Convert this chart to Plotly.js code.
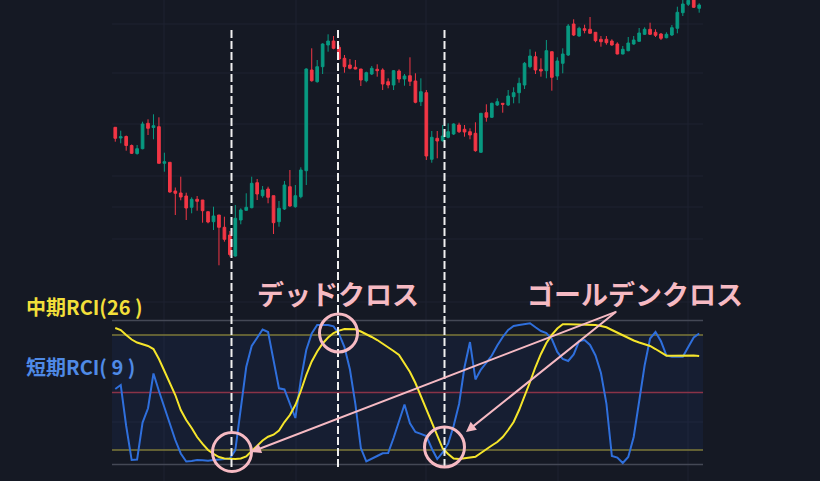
<!DOCTYPE html>
<html>
<head>
<meta charset="utf-8">
<script src="https://cdn.plot.ly/plotly-3.0.1.min.js"></script>
<style>
html,body{margin:0;padding:0;background:#151924;}
#chart{width:820px;height:481px;}
</style>
</head>
<body>
<div id="chart"></div>
<script>
// ---- price data (OHLC, arbitrary price units) ----
const open = [172.7,162,163.5,154.5,146.5,151.3,176.7,172.5,173.3,136.7,
  137.7,109,107,104,92.7,100.7,100,88.3,78.3,85,
  72.7,65,44,80,89.7,92.3,117.3,104.3,111,104.3,
  78.3,91,113.3,93.3,103.3,129.3,230,218.3,233.3,255,
  259,252.7,241.7,235,232.7,231,219.3,226,230.7,230,
  218.3,215,229,221,224.3,219,198.3,207.3,140.7,161.7,
  159.3,162.7,166,175,170.7,168.3,166.7,147.7,187.3,182.7,
  195,196.7,195,203.3,207.3,215,233.3,243.3,230.7,229.3,
  248.3,224,236.7,245,276,264,271.3,270.7,267.7,260.7,
  260.7,259,256,246,249.3,256,258.7,265.7,270.7,267.7,
  266,262.3,265,271.7,287.3,295.7,301,291.7];
const high = [173,169.3,164.5,155.5,155,178.3,180.7,185.7,182.7,147.3,
  138,112.5,123.3,107.3,102.7,104,100,88.5,93.3,85,
  83.3,69,95,91.7,106.7,123.3,121,114,113.3,104.3,
  99,119,130,115,132.7,231.7,251.7,240,256.7,265.7,
  264,255,245,241,240,231,228.3,234,235.7,231.7,
  221.7,230,230.7,226,242.7,226.7,221.7,210,169,169,
  175,176.7,176.7,177.3,175,171.7,177.7,187,195.7,197.3,
  201.7,197,210,212.7,222.3,238,250.7,248.3,241.7,260,
  248.3,242.7,251.7,276,280.7,273.3,275.3,283,267.7,264,
  264,260.7,257.7,254,263,264,272,272.7,277.3,270.7,
  267,267.7,275,293.3,300,302,303,296.7];
const low = [158.3,156.7,149.3,146,145.3,150.7,165,160.7,136.7,128.3,
  107.3,85,99.7,80,86.7,89.3,77.3,76.7,70,34.7,
  58.3,43.5,43.3,75.7,89.3,91.7,100,102.3,96.7,66,
  73.3,90,93.3,92.3,101.7,115,218.3,217.3,226,248.3,
  250.7,240,227.3,230.7,230.7,214,217.7,225,223.3,210,
  211.7,210,217.3,214.3,214,196.7,194,140,137.3,141.7,
  158.3,161.7,165,167,163.3,160.7,148.3,147.3,178.3,182,
  194,187.3,194,196.7,196.7,211,231.7,226,223.3,221.7,
  209.3,220,226.7,244,264,263.3,266.7,266.7,257.7,253.3,
  255.3,254.3,245.7,245.7,248.7,255.3,258.3,265,265,263,
  260,261.7,264,266.7,284,294,292,287.3];
const close = [161.7,163.3,154.5,146.7,151.3,176,171.7,174.3,136.7,138.3,
  108,106.7,103,92,100.7,98.7,89.3,78,84,72.7,
  60.7,45.5,81.7,90,92.7,116.7,106,110,102.7,77.3,
  91.7,115,94,104.3,130,231,219.3,233.3,256,259,
  251.7,241,233.3,231.7,231,220,227.3,231.7,229.3,216,
  215,229.3,221,224,218.7,197.7,208.3,144,162.7,159,
  164,168.3,176,168.3,168,165,149.3,186.7,182.7,196.7,
  198.3,195.7,204,207.3,216.7,236.7,244,230,229,249.3,
  222.7,239,246,274,265,271.7,269.7,266.7,259.3,258.3,
  257.3,255,246,250.7,257,260,267,270.7,265.7,264.7,
  261.7,265.7,272.3,287.7,296,299.7,292.7,295];

// ---- RCI values ----
const rciShort9 = [4.9,10.4,-46.5,-93.8,-93.1,-41.7,-21.9,26.4,2.1,-20.8,
  -43.8,-66,-84.7,-95.8,-95.1,-93.8,-94.2,-94.7,-93.8,-93.1,
  -92.4,-91.7,-79.9,-22.9,35.4,64.6,75.3,87.5,84,43.1,
  5.8,4.2,-15.3,-35.4,17.4,59,81.9,93.8,93.8,93.8,
  91.9,81.3,63.2,31.9,-16,-77.1,-95.8,-92.4,-88.2,-84.4,
  -84,-63.2,-40.3,-16.7,-42.8,-54.9,-57.4,-60.4,-77.8,-92.4,
  -83.3,-70.8,-46.5,-16,35.4,70.1,18.1,31.9,41.3,51.4,
  65.3,77.1,86.8,92.4,93.8,94.7,96.1,90.6,85.4,82.6,
  74.3,56.3,46.5,43.8,52.8,71.5,72.9,66,51.4,27.1,
  -15.3,-88.2,-90.3,-97.9,-89.6,-61.8,-11.1,37.5,75,84,
  71.1,51.4,49.7,49.7,49.7,63.2,76.4,81.9];
const rciMid26 = [89.6,86.8,79.9,73.6,69.4,67.4,64.6,60.4,46.5,29.9,
  13.2,-3.5,-24.3,-38.2,-49.3,-61.8,-71.5,-79.9,-85.4,-89.6,
  -91.7,-92.4,-92.4,-91.7,-88.9,-81.3,-73.6,-66.7,-61.4,-58.6,
  -52.8,-41,-31.3,-17.4,2.1,24.3,43.1,56.9,68.1,76.4,
  82.6,86,88.2,88.2,87.8,84.7,81.3,77.1,72.9,68.1,
  62.5,57.6,52.1,41,28.5,13.2,-4.9,-22.9,-41,-59,
  -77.8,-85.4,-91.7,-92.4,-91,-90,-89.2,-84,-78.5,-73.6,
  -68.8,-61.8,-52.1,-41,-24.3,-5.6,14.6,35.4,53.5,68.8,
  79.9,88.9,94.7,94.7,94.7,94.7,94.7,94.7,93.8,92.4,
  90.6,86.8,82.9,79.2,75.7,72.2,69.4,66.7,64.6,60.4,
  55.3,51.1,51.1,51.1,51.1,52.1,51.4,50.7];
const rciLevels = [100, 80, 0, -80, -100];

// ---- texts ----
const labelMid = '中期RCI(26 )';
const labelShort = '短期RCI( 9 )';
const textDead = 'デッドクロス';
const textGolden = 'ゴールデンクロス';

const bars = open.map((_, i) => i);

// ---- layout helpers (pixel -> paper) ----
const W = 820, H = 481, PL = 112, PR = 703;
const px = v => (v - PL) / (PR - PL);
const py = v => 1 - v / H;

const PINK = '#f6bac3';
const JP = 'Noto Sans CJK JP';

const traces = [
  {
    type: 'candlestick', x: bars, open: open, high: high, low: low, close: close,
    xaxis: 'x', yaxis: 'y', whiskerwidth: 0, hoverinfo: 'skip',
    increasing: {line: {color: '#089981', width: 1}, fillcolor: '#089981'},
    decreasing: {line: {color: '#f23645', width: 1}, fillcolor: '#f23645'}
  },
  {
    type: 'scatter', mode: 'lines', x: bars, y: rciShort9, xaxis: 'x', yaxis: 'y2',
    line: {color: '#2f6fdc', width: 2}, hoverinfo: 'skip'
  },
  {
    type: 'scatter', mode: 'lines', x: bars, y: rciMid26, xaxis: 'x', yaxis: 'y2',
    line: {color: '#f5e52b', width: 2}, hoverinfo: 'skip'
  }
];

const shapes = [];
// background grid
[164, 296, 426, 558, 688].forEach(g => shapes.push({
  type: 'line', xref: 'paper', yref: 'paper', x0: px(g), x1: px(g), y0: 0, y1: 1,
  line: {color: '#1f2331', width: 1}, layer: 'below'}));
[24, 73, 124, 176, 207, 239, 302, 422].forEach(g => shapes.push({
  type: 'line', xref: 'paper', yref: 'paper', x0: 0, x1: 1, y0: py(g), y1: py(g),
  line: {color: '#1f2331', width: 1}, layer: 'below'}));
// RCI band
shapes.push({type: 'rect', xref: 'paper', yref: 'y2', x0: 0, x1: 1, y0: -80, y1: 80,
  fillcolor: 'rgba(40,80,180,0.10)', line: {width: 0}, layer: 'below'});
const levelColors = {'100': '#444855', '80': '#7d7838', '0': '#8a3347', '-80': '#7d7838', '-100': '#444855'};
rciLevels.forEach(l => shapes.push({
  type: 'line', xref: 'paper', yref: 'y2', x0: 0, x1: 1, y0: l, y1: l,
  line: {color: levelColors[String(l)], width: 1.5}, layer: 'below'}));
// dashed cross markers
[231.5, 338, 444.5].forEach(v => shapes.push({
  type: 'line', xref: 'paper', yref: 'paper', x0: px(v), x1: px(v), y0: py(467), y1: py(28),
  line: {color: '#f0f0f0', width: 2, dash: '8px,3px'}}));
// circles
[[232, 452, 19.5], [338.5, 333, 19], [444.5, 447, 20]].forEach(c => shapes.push({
  type: 'circle', xref: 'paper', yref: 'paper',
  x0: px(c[0] - c[2]), x1: px(c[0] + c[2]), y0: py(c[1] + c[2]), y1: py(c[1] - c[2]),
  line: {color: PINK, width: 3}}));

const annotations = [
  {xref: 'paper', yref: 'paper', x: px(337.5), y: py(293), text: textDead, showarrow: false,
   xanchor: 'center', yanchor: 'middle', font: {family: JP, size: 27, color: PINK, weight: 700}},
  {xref: 'paper', yref: 'paper', x: px(634.5), y: py(293), text: textGolden, showarrow: false,
   xanchor: 'center', yanchor: 'middle', font: {family: JP, size: 27, color: PINK, weight: 700}},
  {xref: 'paper', yref: 'paper', x: px(24), y: py(306), text: labelMid, showarrow: false,
   xanchor: 'left', yanchor: 'middle', font: {family: JP, size: 20, color: '#f2df3a', weight: 700}},
  {xref: 'paper', yref: 'paper', x: px(24), y: py(366), text: labelShort, showarrow: false,
   xanchor: 'left', yanchor: 'middle', font: {family: JP, size: 20, color: '#4f8ae6', weight: 700}},
  {xref: 'paper', yref: 'paper', x: px(251), y: py(452), text: '', showarrow: true,
   ax: 367, ay: -141, arrowhead: 2, arrowsize: 1, arrowwidth: 2, arrowcolor: PINK, standoff: 0},
  {xref: 'paper', yref: 'paper', x: px(466), y: py(432), text: '', showarrow: true,
   ax: 151, ay: -121, arrowhead: 2, arrowsize: 1, arrowwidth: 2, arrowcolor: PINK, standoff: 0}
];

const layout = {
  width: W, height: H,
  margin: {l: PL, r: W - PR, t: 0, b: 0, pad: 0},
  paper_bgcolor: '#151924', plot_bgcolor: '#151924',
  showlegend: false, hovermode: false,
  xaxis: {range: [-0.6, 107.7], showgrid: false, zeroline: false, showticklabels: false,
          ticks: '', showline: false, rangeslider: {visible: false}, fixedrange: true},
  yaxis: {domain: [py(275), 1], range: [25, 300], showgrid: false, zeroline: false,
          showticklabels: false, ticks: '', fixedrange: true},
  yaxis2: {domain: [py(471.7), py(313.3)], range: [-110, 110], showgrid: false, zeroline: false,
           showticklabels: false, ticks: '', fixedrange: true},
  shapes: shapes,
  annotations: annotations
};

Plotly.newPlot('chart', traces, layout, {staticPlot: true, displayModeBar: false});
</script>
</body>
</html>
